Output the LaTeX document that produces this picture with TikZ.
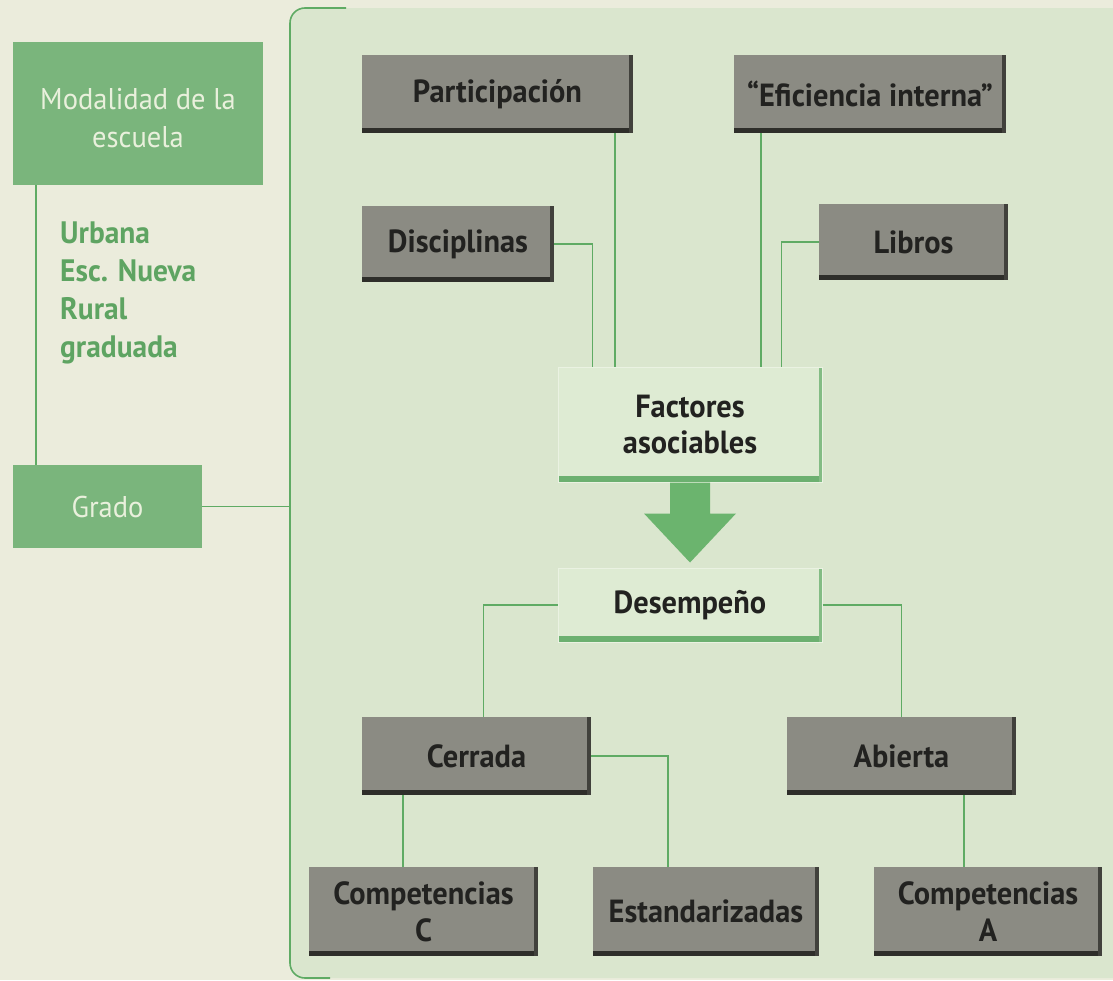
\documentclass[tikz,border=0pt]{standalone}
\usepackage{fontspec}
\newfontfamily\bfont{PT Sans}[FakeStretch=0.95]
\usetikzlibrary{calc}
\definecolor{bgcream}{HTML}{EBECDC}
\definecolor{panelfill}{HTML}{DAE6CE}
\definecolor{gline}{HTML}{5FAB64}
\definecolor{gboxfill}{HTML}{8B8B83}
\definecolor{gshadow}{HTML}{2E2E2A}
\definecolor{txtdark}{HTML}{222220}
\definecolor{modgreen}{HTML}{7AB57C}
\definecolor{modtext}{HTML}{E9F0DC}
\definecolor{listgreen}{HTML}{5EA462}
\definecolor{lbfill}{HTML}{DEEBD3}
\definecolor{lbband}{HTML}{6CB070}
\definecolor{arrowgreen}{HTML}{6BB46E}
\begin{document}
\begin{tikzpicture}[x=1pt,y=-1pt,
  conn/.style={draw=gline, line width=1.6pt},
  graybox/.style 2 args={fill=gboxfill, text=txtdark, inner sep=0pt, align=center,
     minimum width=#1, minimum height=#2,
     font=\bfont\bfseries\fontsize{32}{37}\selectfont,
     path picture={
       \fill[gshadow] (path picture bounding box.south west) rectangle ([yshift=5pt]path picture bounding box.south east);
       \fill[gshadow!80!gboxfill] ([xshift=-4pt]path picture bounding box.north east) rectangle (path picture bounding box.south east);
     }},
  lightbox/.style 2 args={fill=lbfill, draw=white!35!lbfill, line width=1pt, text=txtdark, inner sep=0pt, align=center,
     minimum width=#1, minimum height=#2,
     font=\bfont\bfseries\fontsize{32}{36}\selectfont,
     path picture={
       \fill[lbband] (path picture bounding box.south west) rectangle ([yshift=6pt]path picture bounding box.south east);
       \fill[lbband!80!lbfill] ([xshift=-3pt]path picture bounding box.north east) rectangle (path picture bounding box.south east);
     }},
  greenbox/.style 2 args={fill=modgreen, text=modtext, inner sep=0pt, align=center,
     minimum width=#1, minimum height=#2,
     font=\bfont\fontsize{30}{38}\selectfont},
  listtext/.style={text=listgreen, align=left, inner sep=0pt,
     font=\bfont\bfseries\fontsize{31}{38}\selectfont}
]
\useasboundingbox (0,0) rectangle (1113,980);
% backgrounds
\fill[bgcream] (0,0) rectangle (1113,980);
\fill[panelfill, rounded corners=15pt] (1140,978) -- (290,978) -- (290,8) -- (1140,8) -- cycle;
\draw[conn, rounded corners=15pt] (346,8) -- (290,8) -- (290,978) -- (330,978);
\coordinate (panelx) at (290,0);

% left column
\node[greenbox={250pt}{143pt}] (mod) at (138,113.5) {\rule{0pt}{31pt}Modalidad de la\\escuela};
\node[listtext, anchor=west] (list) at (60,293) {Urbana\\Esc. Nueva\\Rural\\graduada};
\node[greenbox={189pt}{83pt}] (grado) at (107.5,506.5) {Grado};

% top row
\node[graybox={271pt}{78pt}] (part) at (497.5,94) {Participación};
\node[graybox={272pt}{78pt}] (efi) at (870,94) {“Eficiencia interna”};
\node[graybox={192pt}{76pt}] (disc) at (458,244) {Disciplinas};
\node[graybox={189pt}{76pt}] (lib) at (913.5,242) {Libros};

% centre
\node[lightbox={264pt}{115pt}] (fa) at (690,424.5) {Factores\\asociables};
\node[lightbox={264pt}{74pt}] (des) at (690,605) {Desempeño};

% lower rows
\node[graybox={229pt}{78pt}] (cer) at (476.5,756) {Cerrada};
\node[graybox={229pt}{78pt}] (abi) at (901.5,756) {Abierta};
\node[graybox={229pt}{89pt}] (compc) at (423.5,911.5) {Competencias\\C};
\node[graybox={226pt}{89pt}] (est) at (706,911.5) {Estandarizadas};
\node[graybox={228pt}{89pt}] (compa) at (988,911.5) {Competencias\\A};

% block arrow
\fill[arrowgreen] ($(fa.south)+(-20,0)$) -- ($(fa.south)+(20,0)$) -- ($(fa.south)+(20,31)$)
   -- ($(fa.south)+(46,31)$) -- ($(fa.south)+(0,80)$) -- ($(fa.south)+(-46,31)$)
   -- ($(fa.south)+(-20,31)$) -- cycle;

% connectors
\draw[conn] ([xshift=23pt]mod.south west) -- ([xshift=23pt]grado.north west);
\draw[conn] (grado.east) -- (grado.east -| panelx);
\draw[conn] ([xshift=-18pt]part.south east) -- ([xshift=-18pt]part.south east |- fa.north);
\draw[conn] (disc.east) -| ([xshift=35pt]fa.north west);
\draw[conn] ([xshift=27pt]efi.south west) -- ([xshift=27pt]efi.south west |- fa.north);
\draw[conn] (lib.west) -| ([xshift=-41pt]fa.north east);
\draw[conn] (des.west) -| ([xshift=7pt]cer.north);
\draw[conn] (des.east) -| (abi.north);
\draw[conn] ([xshift=41pt]cer.south west) -- ([xshift=41pt]cer.south west |- compc.north);
\draw[conn] (cer.east) -| ([xshift=75pt]est.north west);
\draw[conn] ([xshift=177pt]abi.south west) -- ([xshift=177pt]abi.south west |- compa.north);
\end{tikzpicture}
\end{document}
